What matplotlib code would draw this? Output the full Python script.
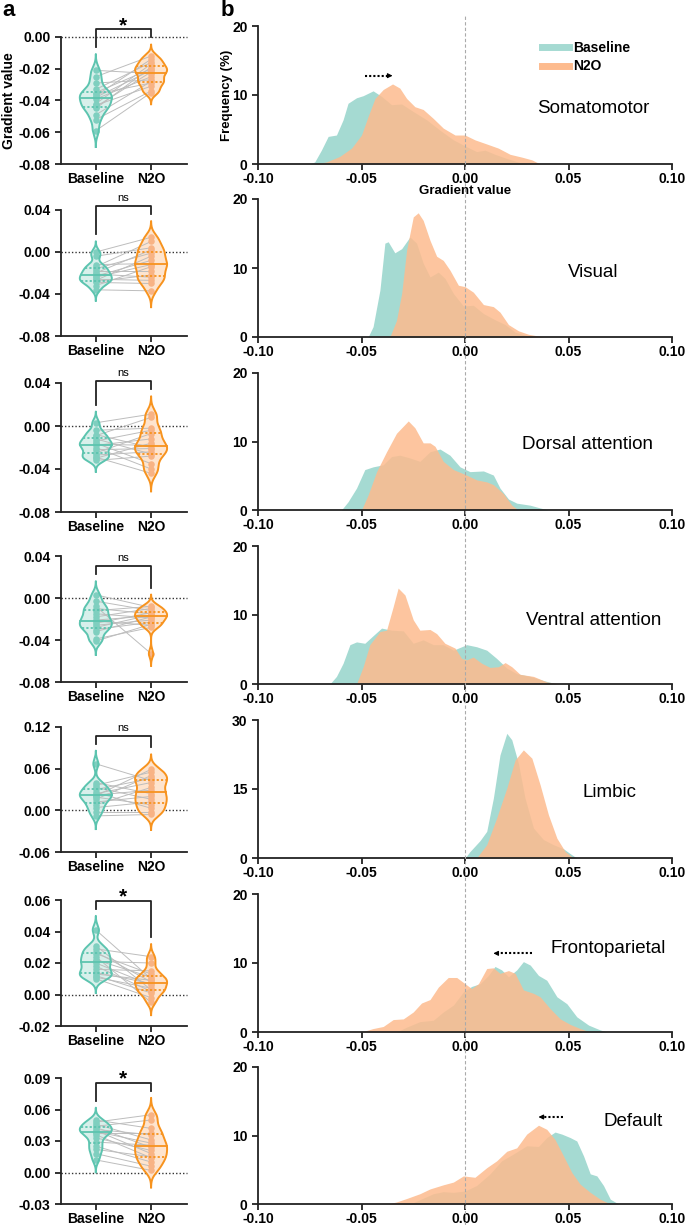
import matplotlib.pyplot as plt
import matplotlib.transforms as mtransforms
import numpy as np
from matplotlib.lines import Line2D

plt.rcParams['font.family'] = ['Liberation Sans', 'DejaVu Sans']
plt.rcParams['font.weight'] = 'bold'
plt.rcParams['axes.labelweight'] = 'bold'
plt.rcParams['axes.unicode_minus'] = False

networks = ['Somatomotor', 'Visual', 'Dorsal attention', 'Ventral attention',
            'Limbic', 'Frontoparietal', 'Default']
conditions = ['Baseline', 'N2O']
significance = ['*', 'ns', 'ns', 'ns', 'ns', '*', '*']

# panel a: subject-level gradient values (same subject order in both conditions)
soma_base = [-0.021, -0.025, -0.029, -0.033, -0.035, -0.036, -0.037, -0.038,
             -0.039, -0.042, -0.043, -0.044, -0.045, -0.049, -0.052, -0.059]
soma_n2o = [-0.023, -0.012, -0.027, -0.016, -0.020, -0.029, -0.014, -0.021,
            -0.025, -0.017, -0.031, -0.022, -0.019, -0.028, -0.034, -0.035]
vis_base = [0.000, -0.004, -0.012, -0.014, -0.016, -0.018, -0.020, -0.021,
            -0.023, -0.024, -0.026, -0.027, -0.028, -0.029, -0.032, -0.036]
vis_n2o = [0.014, 0.004, -0.011, 0.010, -0.001, -0.018, 0.002, -0.024,
           -0.008, -0.012, -0.027, -0.004, -0.022, -0.030, -0.014, -0.037]
dan_base = [0.003, -0.004, -0.008, -0.009, -0.012, -0.014, -0.016, -0.017,
            -0.018, -0.020, -0.022, -0.025, -0.027, -0.029, -0.030, -0.032]
dan_n2o = [0.011, -0.002, -0.020, 0.008, -0.026, -0.004, -0.035, -0.018,
           -0.012, -0.040, -0.021, -0.007, -0.024, -0.044, -0.016, -0.028]
van_base = [0.003, -0.003, -0.008, -0.010, -0.012, -0.015, -0.018, -0.021,
            -0.022, -0.024, -0.026, -0.028, -0.030, -0.032, -0.039, -0.041]
van_n2o = [-0.009, -0.012, -0.053, -0.015, -0.008, -0.019, -0.010, -0.017,
           -0.026, -0.014, -0.021, -0.016, -0.023, -0.018, -0.028, -0.025]
lim_base = [0.067, 0.040, 0.036, 0.033, 0.030, 0.026, 0.024, 0.022,
            0.021, 0.019, 0.016, 0.012, 0.008, 0.004, -0.002, -0.008]
lim_n2o = [0.043, 0.024, 0.055, 0.016, 0.046, 0.003, 0.040, 0.029,
           0.059, 0.008, 0.050, 0.020, 0.033, 0.012, -0.002, -0.006]
fp_base = [0.041, 0.031, 0.029, 0.027, 0.026, 0.024, 0.022, 0.021,
           0.020, 0.018, 0.016, 0.014, 0.013, 0.012, 0.011, 0.010]
fp_n2o = [0.010, 0.003, 0.024, 0.008, 0.013, -0.005, 0.011, 0.020,
          0.006, 0.002, 0.015, 0.007, 0.009, 0.001, 0.004, -0.002]
dmn_base = [0.050, 0.048, 0.046, 0.044, 0.043, 0.041, 0.040, 0.039,
            0.038, 0.036, 0.033, 0.029, 0.025, 0.022, 0.018, 0.012]
dmn_n2o = [0.042, 0.055, 0.031, 0.050, 0.024, 0.036, 0.018, 0.028,
           0.038, 0.014, 0.021, 0.026, 0.010, 0.015, 0.006, 0.002]

# panel b: frequency (%) curves read at gradient values
soma_base_x = [-0.075, -0.0726, -0.0694, -0.0661, -0.0621, -0.0589, -0.0565, -0.0524,
               -0.0492, -0.0444, -0.0403, -0.0355, -0.0306, -0.025, -0.0185, -0.0121,
               -0.0056, 0.0008, 0.0056, 0.0097, 0.0145, 0.0202, 0.0266, 0.0306]
soma_base_y = [0, 0.3, 2.0, 4.0, 4.2, 6.4, 8.8, 9.6,
               9.9, 10.6, 9.8, 8.6, 8.7, 7.6, 6.4, 4.9,
               3.5, 2.5, 1.8, 2.0, 1.4, 0.8, 0.2, 0]
soma_n2o_x = [-0.0726, -0.0669, -0.0605, -0.0548, -0.05, -0.0468, -0.0435, -0.0395,
              -0.035, -0.0315, -0.0282, -0.0242, -0.0202, -0.0153, -0.0105, -0.0048,
              0.0, 0.0048, 0.0105, 0.0161, 0.0218, 0.0274, 0.0323, 0.0363]
soma_n2o_y = [0, 0.3, 1.1, 2.3, 4.2, 6.9, 9.5, 10.8,
              11.6, 11.0, 9.5, 8.3, 7.9, 6.6, 5.2, 4.2,
              4.2, 3.5, 2.9, 2.3, 1.4, 1.0, 0.6, 0]

vis_base_x = [-0.0468, -0.0444, -0.0411, -0.0387, -0.0371, -0.0339, -0.0306, -0.0266,
              -0.0234, -0.0202, -0.0169, -0.0129, -0.0097, -0.0056, -0.0008, 0.004,
              0.0089, 0.0145, 0.0194, 0.0242, 0.0298, 0.033]
vis_base_y = [0, 1.5, 6.8, 13.6, 13.8, 12.2, 12.8, 14.5,
              13.6, 10.7, 8.7, 9.4, 8.5, 6.3, 4.5, 4.6,
              3.4, 2.5, 1.8, 0.7, 0.2, 0]
vis_n2o_x = [-0.0363, -0.0331, -0.0306, -0.0282, -0.025, -0.0226, -0.0202, -0.0169,
             -0.0137, -0.0105, -0.0073, -0.0032, 0.0, 0.004, 0.0089, 0.0137,
             0.0169, 0.021, 0.0258, 0.0306, 0.0379]
vis_n2o_y = [0, 2.4, 6.3, 12.6, 17.4, 18.0, 16.9, 14.0,
             11.7, 11.1, 9.7, 7.5, 7.3, 6.5, 4.7, 4.4,
             3.6, 1.8, 0.9, 0.4, 0]

dan_base_x = [-0.0597, -0.0565, -0.0524, -0.0484, -0.0444, -0.0395, -0.0355, -0.0315,
              -0.0266, -0.0218, -0.0169, -0.0121, -0.0073, -0.0024, 0.0024, 0.0089,
              0.0137, 0.0169, 0.021, 0.025, 0.0315, 0.0363, 0.0403]
dan_base_y = [0, 1.2, 3.2, 5.9, 6.3, 6.6, 7.8, 8.0,
              7.6, 7.1, 8.5, 8.9, 8.0, 6.3, 5.6, 5.7,
              5.1, 3.2, 1.6, 1.0, 0.7, 0.3, 0]
dan_n2o_x = [-0.05, -0.0468, -0.0427, -0.0379, -0.0331, -0.0274, -0.0242, -0.0202,
             -0.0169, -0.0145, -0.0105, -0.0056, 0.0, 0.0056, 0.0105, 0.0137,
             0.0185, 0.0226, 0.0258]
dan_n2o_y = [0, 2.2, 5.6, 8.5, 11.2, 13.0, 12.0, 9.8,
             9.8, 9.3, 7.1, 5.9, 5.2, 4.4, 4.1, 3.7,
             2.4, 0.7, 0]

van_base_x = [-0.0653, -0.0621, -0.0589, -0.0556, -0.0524, -0.0484, -0.0444, -0.0403,
              -0.0355, -0.0298, -0.025, -0.0202, -0.0153, -0.0105, -0.0056, 0.0008,
              0.0056, 0.0105, 0.0153, 0.0202, 0.025, 0.0315, 0.0379, 0.0444]
van_base_y = [0, 1.1, 3.0, 5.7, 6.1, 5.9, 7.0, 8.1,
              7.8, 7.7, 5.9, 6.4, 5.7, 5.7, 4.9, 5.7,
              5.4, 4.9, 3.7, 2.3, 1.5, 1.1, 0.5, 0]
van_n2o_x = [-0.0524, -0.0492, -0.046, -0.0411, -0.0379, -0.0347, -0.0323, -0.029,
             -0.025, -0.0218, -0.0169, -0.0137, -0.0097, -0.0048, -0.0016, 0.0008,
             0.004, 0.0081, 0.0121, 0.0161, 0.0194, 0.0226, 0.0266, 0.0331,
             0.0395, 0.046]
van_n2o_y = [0, 2.5, 5.7, 7.6, 7.8, 11.2, 13.9, 12.9,
             9.3, 7.8, 7.9, 7.3, 5.9, 5.2, 3.7, 3.5,
             3.9, 3.0, 2.4, 2.5, 3.1, 2.5, 1.4, 1.1,
             0.3, 0]

lim_base_x = [0.0, 0.0024, 0.0073, 0.0105, 0.0137, 0.0169, 0.0202, 0.0226,
              0.0258, 0.029, 0.0331, 0.0379, 0.0427, 0.0476, 0.0516, 0.054]
lim_base_y = [0, 1.4, 3.8, 5.8, 13.0, 22.4, 27.1, 25.7,
              20.6, 13.0, 6.5, 4.0, 2.9, 2.0, 0.7, 0]
lim_n2o_x = [0.0056, 0.0105, 0.0153, 0.0202, 0.0242, 0.0282, 0.0323, 0.0363,
             0.0403, 0.0444, 0.0484, 0.0524]
lim_n2o_y = [0, 2.9, 8.7, 15.2, 21.3, 23.5, 21.7, 15.9,
             9.4, 4.3, 1.4, 0]

fp_base_x = [-0.0331, -0.0282, -0.0218, -0.0153, -0.0105, -0.0056, -0.0008, 0.0032,
             0.0073, 0.0113, 0.0145, 0.0177, 0.021, 0.025, 0.0282, 0.0315,
             0.0355, 0.0395, 0.0444, 0.0492, 0.054, 0.0597, 0.0653, 0.0685]
fp_base_y = [0, 0.7, 1.5, 1.7, 2.9, 3.9, 5.8, 6.6,
             7.0, 8.2, 9.5, 9.0, 8.0, 9.0, 10.2, 9.7,
             8.2, 7.5, 5.1, 4.1, 2.2, 1.0, 0.3, 0]
fp_n2o_x = [-0.05, -0.0444, -0.0395, -0.0347, -0.0298, -0.025, -0.021, -0.0169,
            -0.0129, -0.0081, -0.004, 0.0, 0.0032, 0.0065, 0.0105, 0.0137,
            0.0169, 0.021, 0.0242, 0.0282, 0.0331, 0.0363, 0.0411, 0.046,
            0.0508, 0.0556, 0.0605]
fp_n2o_y = [0, 0.5, 0.8, 1.8, 1.9, 2.9, 4.2, 4.7,
            6.5, 7.9, 7.9, 7.0, 6.3, 7.0, 9.2, 9.3,
            8.5, 8.9, 8.5, 6.1, 5.6, 5.1, 3.4, 1.9,
            1.1, 0.5, 0]

dmn_base_x = [-0.0315, -0.025, -0.0153, -0.0105, -0.0056, 0.0, 0.0056, 0.0121,
              0.0177, 0.0234, 0.0298, 0.0355, 0.0395, 0.0435, 0.0468, 0.0508,
              0.054, 0.0573, 0.0605, 0.0637, 0.0669, 0.0702, 0.0742]
dmn_base_y = [0, 0.2, 1.5, 1.8, 1.7, 1.9, 2.7, 4.4,
              6.3, 7.3, 8.5, 8.4, 9.7, 10.5, 10.2, 9.7,
              9.2, 7.0, 4.4, 4.1, 2.7, 0.7, 0]
dmn_n2o_x = [-0.0371, -0.0331, -0.0282, -0.0218, -0.0169, -0.0105, -0.0056, -0.0008,
             0.0048, 0.0105, 0.0153, 0.0202, 0.025, 0.0298, 0.0355, 0.0395,
             0.0435, 0.0476, 0.0516, 0.0556, 0.0605, 0.0653, 0.0702]
dmn_n2o_y = [0, 0.3, 0.8, 1.5, 2.2, 2.8, 3.2, 4.1,
             3.9, 5.3, 6.3, 7.7, 8.2, 10.2, 11.5, 10.9,
             9.4, 7.0, 4.6, 2.9, 1.7, 0.7, 0]

subject_data = [(soma_base, soma_n2o), (vis_base, vis_n2o), (dan_base, dan_n2o),
                (van_base, van_n2o), (lim_base, lim_n2o), (fp_base, fp_n2o),
                (dmn_base, dmn_n2o)]
density_data = [(soma_base_x, soma_base_y, soma_n2o_x, soma_n2o_y),
                (vis_base_x, vis_base_y, vis_n2o_x, vis_n2o_y),
                (dan_base_x, dan_base_y, dan_n2o_x, dan_n2o_y),
                (van_base_x, van_base_y, van_n2o_x, van_n2o_y),
                (lim_base_x, lim_base_y, lim_n2o_x, lim_n2o_y),
                (fp_base_x, fp_base_y, fp_n2o_x, fp_n2o_y),
                (dmn_base_x, dmn_base_y, dmn_n2o_x, dmn_n2o_y)]

# layout (pixels) and axis ranges
W, H = 685, 1225
left_rows = [(37, 164), (210, 336), (383, 512), (556, 682), (727, 852), (900, 1026), (1078, 1204)]
right_rows = [(26, 164), (199, 337), (373, 510), (546, 684), (720, 858), (894, 1032), (1067, 1204)]
left_ylims = [(-0.08, 0.00), (-0.08, 0.04), (-0.08, 0.04), (-0.08, 0.04),
              (-0.06, 0.12), (-0.02, 0.06), (-0.03, 0.09)]
left_steps = [0.02, 0.04, 0.04, 0.04, 0.06, 0.02, 0.03]
right_ymax = [20, 20, 20, 20, 30, 20, 20]
label_pos = [(0.062, 8.1), (0.062, 9.4), (0.059, 9.6), (0.062, 9.2),
             (0.070, 14.3), (0.069, 12.1), (0.081, 12.0)]

teal_fill, orange_fill = '#A5DAD2', '#FDBB8E'
edge_cols = ['#5CC4AF', '#F7931E']
violin_cols = ['#D8F0EB', '#FEE4CE']
point_cols = ['#7FCFBF', '#F8B384']
axcol = '#222222'

fig = plt.figure(figsize=(W / 100, H / 100), dpi=100)


def px_axes(x0, x1, y0, y1):
    return fig.add_axes([x0 / W, 1 - y1 / H, (x1 - x0) / W, (y1 - y0) / H])


def style_axes(ax):
    ax.spines['top'].set_visible(False)
    ax.spines['right'].set_visible(False)
    for s in ['left', 'bottom']:
        ax.spines[s].set_linewidth(1.3)
        ax.spines[s].set_color(axcol)
    ax.tick_params(width=1.3, length=4, color=axcol, labelcolor='black')
    ax.tick_params(axis='x', pad=2)


def gauss_kde(vals, grid, bw):
    v = np.asarray(vals)[:, None]
    return np.exp(-0.5 * ((grid[None, :] - v) / bw) ** 2).sum(axis=0)


# ---- panel a: violins ----
for i, (base, n2o) in enumerate(subject_data):
    y0, y1 = left_rows[i]
    ax = px_axes(61, 187, y0, y1)
    style_axes(ax)
    lo, hi = left_ylims[i]
    ax.set_ylim(lo, hi)
    ax.set_xlim(-0.63, 1.65)
    px = (hi - lo) / (y1 - y0)

    ax.axhline(0, color='#333333', lw=1.0, ls=(0, (1, 1.5)), zorder=1, clip_on=False)

    tops = []
    for pos, vals in enumerate([base, n2o]):
        v = np.asarray(vals)
        bw = 0.35 * v.std(ddof=1)
        grid = np.linspace(v.min() - 3 * bw, v.max() + 3 * bw, 300)
        d = gauss_kde(v, grid, bw)
        d = d / d.max() * 0.29
        tops.append(grid.max())
        ax.fill_betweenx(grid, pos - d, pos + d, color=violin_cols[pos], lw=0, zorder=1)
        ax.scatter(np.full(len(v), pos), v, s=22, color=point_cols[pos], lw=0, zorder=3)
        q1, med, q3 = np.percentile(v, [25, 50, 75])
        for q, ls in [(med, '-'), (q1, (0, (1.2, 1.2))), (q3, (0, (1.2, 1.2)))]:
            w = np.interp(q, grid, d)
            ax.plot([pos - w, pos + w], [q, q], color=edge_cols[pos], lw=1.3, ls=ls, zorder=4)
        ax.plot(np.r_[pos - d, (pos + d)[::-1]], np.r_[grid, grid[::-1]],
                color=edge_cols[pos], lw=1.4, zorder=5)

    for b, n in zip(base, n2o):
        ax.plot([0, 1], [b, n], color='#BDBDBD', lw=0.7, zorder=2)

    # significance bracket
    by = max(tops) + 15 * px
    ax.plot([0, 0, 1, 1], [tops[0] + 7 * px, by, by, tops[1] + 7 * px],
            color=axcol, lw=1.3, clip_on=False)
    if significance[i] == '*':
        ax.text(0.5, by - 2 * px, '*', ha='center', va='baseline', fontsize=15,
                fontweight='bold')
    else:
        ax.text(0.5, by + 3 * px, 'ns', ha='center', va='bottom', fontsize=8,
                fontweight='normal')

    ax.set_xticks([0, 1])
    ax.set_xticklabels(conditions, fontsize=10)
    ticks = np.arange(lo, hi + left_steps[i] / 2, left_steps[i])
    ax.set_yticks(ticks)
    ax.set_yticklabels(['%.2f' % t for t in ticks], fontsize=10)
    if i == 0:
        ax.set_ylabel('Gradient value', fontsize=10)
        ax.yaxis.set_label_coords(-0.355, 0.5)

# ---- panel b: frequency distributions ----
right_axes = []
for i, (bx, byv, nx, nyv) in enumerate(density_data):
    y0, y1 = right_rows[i]
    ax = px_axes(258, 672, y0, y1)
    style_axes(ax)
    right_axes.append(ax)
    ax.fill_between(bx, byv, color=teal_fill, lw=0, zorder=1)
    ax.fill_between(nx, nyv, color=orange_fill, alpha=0.85, lw=0, zorder=2)
    ax.set_xlim(-0.10, 0.10)
    ax.set_ylim(0, right_ymax[i])
    yt = [0, right_ymax[i] // 2, right_ymax[i]]
    ax.set_yticks(yt)
    ax.set_yticklabels(['%d' % t for t in yt], fontsize=10)
    xt = [-0.10, -0.05, 0.00, 0.05, 0.10]
    ax.set_xticks(xt)
    ax.set_xticklabels(['%.2f' % t for t in xt], fontsize=10)
    ax.text(label_pos[i][0], label_pos[i][1], networks[i], ha='center', va='center',
            fontsize=13.5, fontweight='normal')

    if significance[i] == '*':
        bpk = bx[int(np.argmax(byv))]
        npk = nx[int(np.argmax(nyv))]
        direction = np.sign(npk - bpk)
        ya = max(max(byv), max(nyv)) + 1.2
        ax.plot([bpk - 0.004 * direction, npk - 0.002 * direction], [ya, ya],
                color='black', lw=1.5, ls=(0, (1, 1)))
        ax.annotate('', xy=(npk, ya), xytext=(npk - 0.002 * direction, ya),
                    arrowprops=dict(arrowstyle='-|>', color='black', lw=0.8,
                                    mutation_scale=7, shrinkA=0, shrinkB=0))

    if i == 0:
        ax.set_ylabel('Frequency (%)', fontsize=9.5)
        ax.yaxis.set_label_coords(-0.06, 0.5)
        ax.set_xlabel('Gradient value', fontsize=9.5, va='top')
        ax.xaxis.set_label_coords(0.5, -0.155)
        handles = [Line2D([], [], color=teal_fill, lw=5), Line2D([], [], color=orange_fill, lw=5)]
        ax.legend(handles, conditions, loc='upper left', bbox_to_anchor=(0.655, 0.985),
                  frameon=False, fontsize=10, handlelength=2.0, handletextpad=0.3,
                  labelspacing=0.35)

# dashed reference line at gradient value 0 across panel b
trans = mtransforms.blended_transform_factory(right_axes[0].transData, fig.transFigure)
fig.add_artist(Line2D([0, 0], [0, 1 - 15 / H], transform=trans, color='#AAAAAA',
                      lw=0.8, ls=(0, (3, 2)), zorder=3))

fig.text(2 / W, 1 - 16 / H, 'a', fontsize=16, fontweight='bold', va='baseline')
fig.text(221 / W, 1 - 16 / H, 'b', fontsize=16, fontweight='bold', va='baseline')

fig.savefig('out.png', dpi=100)
